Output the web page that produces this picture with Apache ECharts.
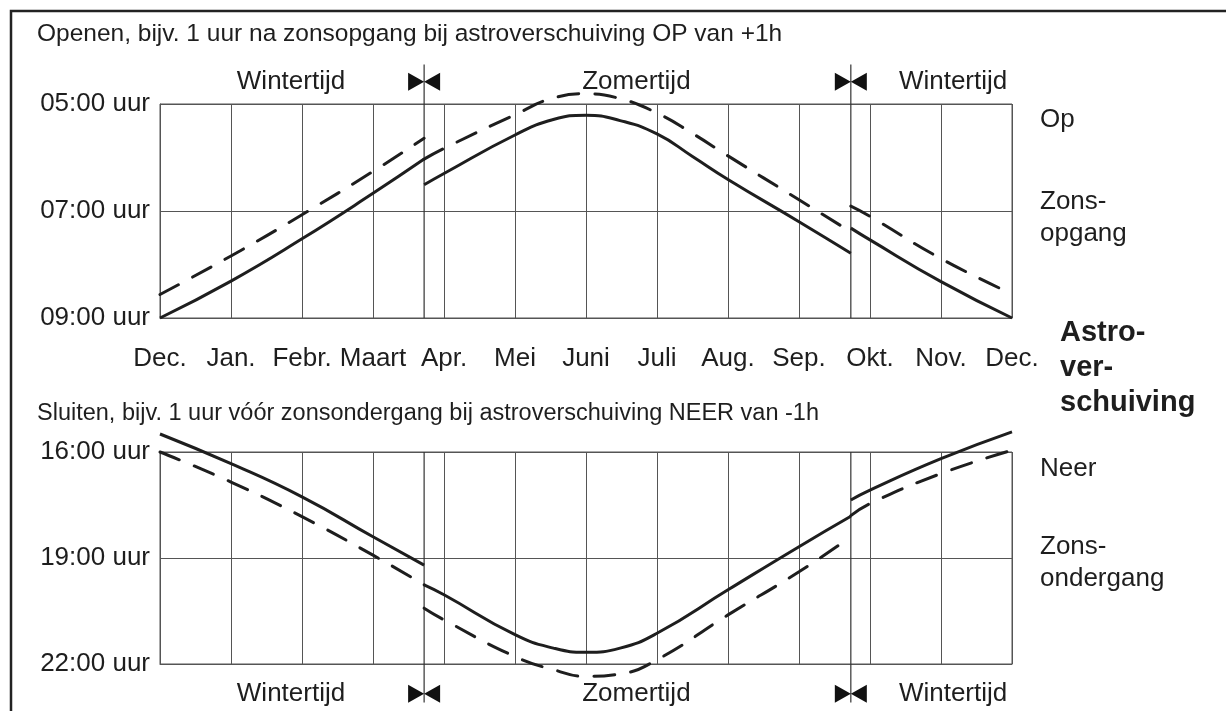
<!DOCTYPE html>
<html>
<head>
<meta charset="utf-8">
<script src="https://cdn.jsdelivr.net/npm/echarts@6/dist/echarts.min.js"></script>
<style>
  html, body { margin: 0; padding: 0; background: #fff; }
  #chart { width: 1226px; height: 711px; }
</style>
</head>
<body>
<div id="chart"></div>
<script>
// month labels under the upper plot (Dec. .. Dec.)
const monthLabels = ['Dec.', 'Jan.', 'Febr.', 'Maart', 'Apr.', 'Mei', 'Juni', 'Juli', 'Aug.', 'Sep.', 'Okt.', 'Nov.', 'Dec.']
const riseTicks = { 5: '05:00 uur', 7: '07:00 uur', 9: '09:00 uur' }
const setTicks = { 16: '16:00 uur', 19: '19:00 uur', 22: '22:00 uur' }

// clock changes (position in months from Dec.)
const dstMonths = [3.72, 9.73]

// sunrise (Zonsopgang), solid: winter / summer / winter
const riseSolid = [
  [[0, 9.0], [1, 8.31], [2, 7.52], [3, 6.67], [3.72, 6.03]],
  [[3.72, 6.51], [4, 6.30], [5, 5.58], [5.54, 5.29], [6, 5.21], [6.48, 5.31], [7, 5.56], [7.5, 5.98], [8, 6.41], [9, 7.2], [9.73, 7.79]],
  [[9.73, 7.32], [10, 7.54], [11, 8.32], [12, 9.0]]
]
// open time with astro shift (Op), dashed
const riseDashed = [
  [[0, 8.56], [1, 7.84], [2, 7.07], [3, 6.26], [3.72, 5.64]],
  [[3.72, 6.03], [4, 5.83], [5, 5.2], [5.54, 4.89], [6, 4.81], [6.48, 4.9], [7, 5.17], [7.5, 5.55], [8, 5.97], [9, 6.79], [9.73, 7.39]],
  [[9.73, 6.91], [10, 7.1], [11, 7.89], [12, 8.55]]
]
// sunset (Zonsondergang), solid
const setSolid = [
  [[0, 15.49], [1, 16.33], [2, 17.27], [3, 18.4], [3.72, 19.2]],
  [[3.72, 19.76], [4, 20.04], [5, 21.17], [5.54, 21.55], [6, 21.67], [6.48, 21.55], [7, 21.13], [8, 19.9], [9, 18.68], [9.73, 17.82]],
  [[9.73, 17.36], [10, 17.08], [11, 16.19], [12, 15.43]]
]
// close time with astro shift (Neer), dashed
const setDashed = [
  [[0, 16.0], [1, 16.85], [2, 17.83], [3, 18.92], [3.72, 19.76]],
  [[3.72, 20.42], [4, 20.75], [5, 21.79], [5.54, 22.16], [6, 22.35], [6.48, 22.28], [7, 21.88], [8, 20.61], [9, 19.39], [9.73, 18.4]],
  [[9.73, 17.8], [10, 17.46], [11, 16.61], [12, 15.95]]
]

// season captions above / below the plots
const seasonNames = ['Wintertijd', 'Zomertijd', 'Wintertijd']
const seasonAt = [1.845, 6.71, 11.17]

const FONT = '"Liberation Sans", Arial, Helvetica, sans-serif'
const INK = '#1e1e1e'
const GRIDC = '#555'

function joinSegments(segs) {
  const out = []
  segs.forEach((s, i) => {
    if (i) out.push([s[0][0], '-'])
    s.forEach(p => out.push(p))
  })
  return out
}

const chart = echarts.init(document.getElementById('chart'), null, { renderer: 'canvas' })

function curve(name, idx, segs, dashed) {
  return {
    name: name,
    type: 'line',
    xAxisIndex: idx,
    yAxisIndex: idx,
    data: joinSegments(segs),
    smooth: 0.5,
    showSymbol: false,
    connectNulls: false,
    clip: false,
    silent: true,
    animation: false,
    lineStyle: {
      color: INK,
      width: 3,
      type: dashed ? [21, 16] : 'solid',
      cap: dashed ? 'round' : 'butt'
    },
    z: 5
  }
}

function dstLine(idx, from, to) {
  return dstMonths.map(m => ({
    type: 'line',
    xAxisIndex: idx,
    yAxisIndex: idx,
    data: [[m, from], [m, to]],
    showSymbol: false,
    clip: false,
    silent: true,
    animation: false,
    lineStyle: { color: '#333', width: 1.2 },
    z: 3
  }))
}

const bowtie = 'path://M0,0 L16,9 L0,18 Z M32,0 L16,9 L32,18 Z'

function markers(idx, y) {
  return [{
    type: 'scatter',
    xAxisIndex: idx,
    yAxisIndex: idx,
    data: dstMonths.map(m => [m, y]),
    symbol: bowtie,
    symbolSize: [32, 18],
    itemStyle: { color: '#111', opacity: 1 },
    clip: false,
    silent: true,
    animation: false,
    z: 6
  }, {
    type: 'scatter',
    xAxisIndex: idx,
    yAxisIndex: idx,
    data: seasonAt.map((m, i) => ({ value: [m, y], name: seasonNames[i] })),
    symbolSize: 0,
    itemStyle: { opacity: 1 },
    clip: false,
    silent: true,
    animation: false,
    label: {
      show: true,
      position: 'inside',
      formatter: p => p.name,
      fontFamily: FONT,
      fontSize: 26,
      color: INK,
      opacity: 1
    }
  }]
}

function xAxis(idx, showLabels) {
  return {
    type: 'value',
    gridIndex: idx,
    min: 0,
    max: 12,
    interval: 1,
    axisLine: { show: true, lineStyle: { color: GRIDC, width: 1 } },
    axisTick: { show: false },
    splitLine: { show: true, lineStyle: { color: GRIDC, width: 1 } },
    axisLabel: {
      show: showLabels,
      margin: 28,
      fontFamily: FONT,
      fontSize: 26,
      color: INK,
      formatter: v => monthLabels[v] || ''
    }
  }
}

function yAxis(idx, min, max, step, ticks) {
  return {
    type: 'value',
    gridIndex: idx,
    inverse: true,
    min: min,
    max: max,
    interval: step,
    axisLine: { show: true, lineStyle: { color: GRIDC, width: 1 } },
    axisTick: { show: false },
    splitLine: { show: true, lineStyle: { color: GRIDC, width: 1 } },
    axisLabel: {
      margin: 10,
      fontFamily: FONT,
      fontSize: 26,
      color: INK,
      formatter: v => ticks[v] || ''
    }
  }
}

function sideText(x, y, text, bold) {
  return {
    type: 'text',
    left: x,
    top: y,
    silent: true,
    style: {
      text: text,
      font: (bold ? 'bold 29px ' : '26px ') + FONT,
      fill: INK,
      lineHeight: bold ? 35 : 32
    }
  }
}

chart.setOption({
  animation: false,
  backgroundColor: '#fff',
  grid: [
    { left: 160, top: 104, width: 852, height: 214, show: true, borderColor: GRIDC, borderWidth: 1 },
    { left: 160, top: 452, width: 852, height: 212, show: true, borderColor: GRIDC, borderWidth: 1 }
  ],
  xAxis: [xAxis(0, true), xAxis(1, false)],
  yAxis: [yAxis(0, 5, 9, 2, riseTicks), yAxis(1, 16, 22, 3, setTicks)],
  series: [
    curve('Op', 0, riseDashed, true),
    curve('Zonsopgang', 0, riseSolid, false),
    curve('Neer', 1, setDashed, true),
    curve('Zonsondergang', 1, setSolid, false)
  ]
    .concat(dstLine(0, 4.26, 9))
    .concat(dstLine(1, 16, 23.09))
    .concat(markers(0, 4.585))
    .concat(markers(1, 22.845)),
  graphic: [
    {
      type: 'polyline',
      silent: true,
      shape: { points: [[11, 711], [11, 11], [1226, 11]] },
      style: { stroke: '#222', lineWidth: 2.5, fill: null }
    },
    {
      type: 'text', left: 37, top: 22, silent: true,
      style: { text: 'Openen, bijv. 1 uur na zonsopgang bij astroverschuiving OP van +1h', font: '24.5px ' + FONT, fill: INK }
    },
    {
      type: 'text', left: 37, top: 402, silent: true,
      style: { text: 'Sluiten, bijv. 1 uur vóór zonsondergang bij astroverschuiving NEER van -1h', font: '23.5px ' + FONT, fill: INK }
    },
    sideText(1040, 104, 'Op'),
    sideText(1040, 186, 'Zons-\nopgang'),
    sideText(1060, 315, 'Astro-\nver-\nschuiving', true),
    sideText(1040, 453, 'Neer'),
    sideText(1040, 531, 'Zons-\nondergang')
  ]
})
</script>
</body>
</html>
